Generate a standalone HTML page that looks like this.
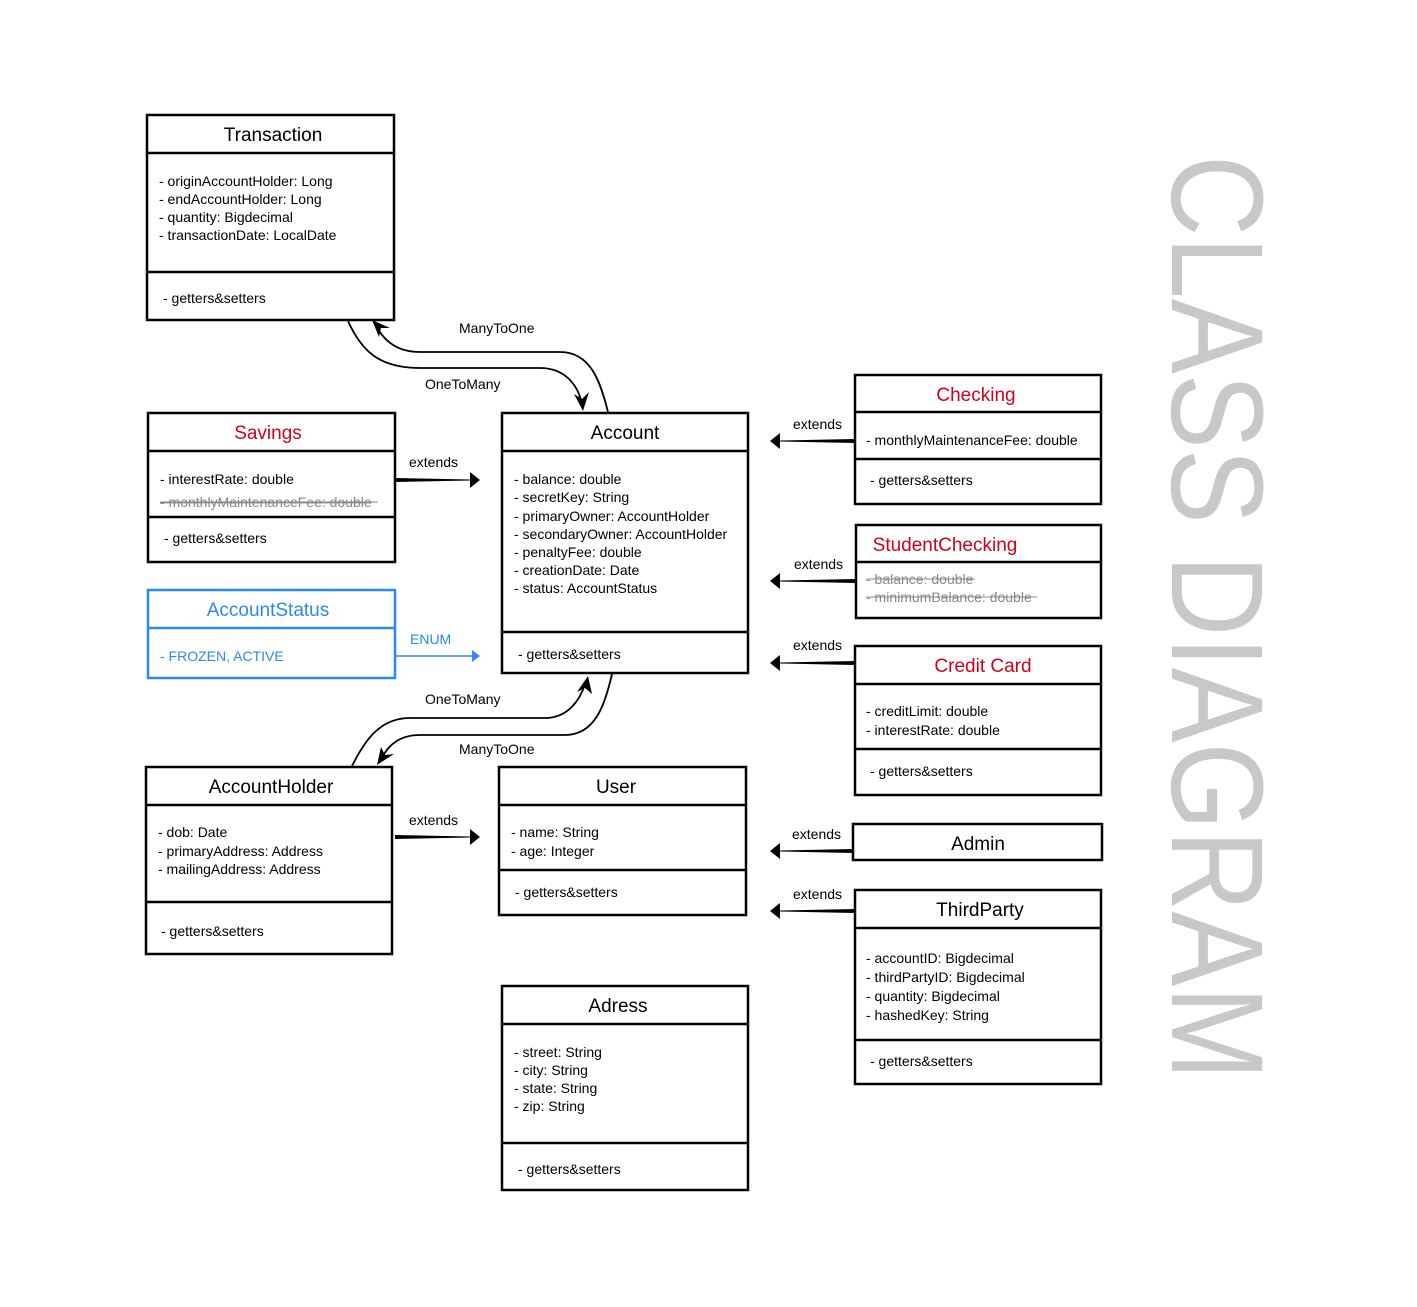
<!DOCTYPE html>
<html><head><meta charset="utf-8"><style>
html,body{margin:0;padding:0;background:#fff}
svg{display:block}
text{font-family:"Liberation Sans",sans-serif}
.h{font-size:19px;text-anchor:middle}
.b{font-size:14px}
.l{font-size:14px}
</style></head><body>
<svg width="1417" height="1307" viewBox="0 0 1417 1307" xmlns="http://www.w3.org/2000/svg">
<g fill="none" stroke="#000" stroke-width="2.5">
<rect x="147" y="115" width="247" height="205"/><line x1="147" y1="153" x2="394" y2="153"/><line x1="147" y1="272" x2="394" y2="272"/>
<rect x="148" y="413" width="247" height="149"/><line x1="148" y1="451" x2="395" y2="451"/><line x1="148" y1="517" x2="395" y2="517"/>
<rect x="502" y="413" width="246" height="260"/><line x1="502" y1="451" x2="748" y2="451"/><line x1="502" y1="632" x2="748" y2="632"/>
<rect x="855" y="375" width="246" height="129"/><line x1="855" y1="412" x2="1101" y2="412"/><line x1="855" y1="459" x2="1101" y2="459"/>
<rect x="856" y="525" width="245" height="93"/><line x1="856" y1="562" x2="1101" y2="562"/>
<rect x="855" y="646" width="246" height="149"/><line x1="855" y1="684" x2="1101" y2="684"/><line x1="855" y1="749" x2="1101" y2="749"/>
<rect x="146" y="767" width="246" height="187"/><line x1="146" y1="805" x2="392" y2="805"/><line x1="146" y1="902" x2="392" y2="902"/>
<rect x="499" y="767" width="247" height="148"/><line x1="499" y1="805" x2="746" y2="805"/><line x1="499" y1="870" x2="746" y2="870"/>
<rect x="853" y="824" width="249" height="36"/>
<rect x="855" y="890" width="246" height="194"/><line x1="855" y1="928" x2="1101" y2="928"/><line x1="855" y1="1040" x2="1101" y2="1040"/>
<rect x="502" y="986" width="246" height="204"/><line x1="502" y1="1024" x2="748" y2="1024"/><line x1="502" y1="1143" x2="748" y2="1143"/>
</g>
<g fill="none" stroke="#2b88f5" stroke-width="2.5">
<rect x="148" y="590" width="247" height="88"/><line x1="148" y1="628" x2="395" y2="628"/>
</g>
<line x1="395" y1="656" x2="472" y2="656" stroke="#2b88f5" stroke-width="1.5"/>
<polygon points="472,650 480,656 472,662" fill="#2b88f5"/>

<!-- curves -->
<g fill="none" stroke="#000" stroke-width="1.8">
<path d="M348,321 C362,352 380,368 420,368 L540,368 C565,368 578,385 582,404"/>
<path d="M608,412 C600,380 590,352 560,352 L420,352 C398,352 385,342 376,326"/>
<path d="M352,766 C365,740 380,718 410,718 L545,718 C568,718 580,700 585,684"/>
<path d="M612,674 C605,705 595,735 565,735 L420,735 C400,735 388,745 382,758"/>
</g>
<polygon points="583,411 574,394 582,399 589,392" fill="#000"/>
<polygon points="372,320 390,328 381,328 379,337" fill="#000"/>
<polygon points="588,676 592,694 585,688 577,692" fill="#000"/>
<polygon points="377,765 381,747 385,755 394,754" fill="#000"/>

<!-- extends arrows -->
<g fill="#000">
<polygon points="395,478 470,479.5 470,480.5 395,482"/><polygon points="470,472 480,480 470,488"/>
<polygon points="395,835 470,836.5 470,837.5 395,839"/><polygon points="470,829 480,837 470,845"/>
<polygon points="855,439 780,440.5 780,441.5 855,443"/><polygon points="780,433 770,441 780,449"/>
<polygon points="856,579 780,580.5 780,581.5 856,583"/><polygon points="780,573 770,581 780,589"/>
<polygon points="855,661 780,662.5 780,663.5 855,665"/><polygon points="780,655 770,663 780,671"/>
<polygon points="853,849 780,850.5 780,851.5 853,853"/><polygon points="780,843 770,851 780,859"/>
<polygon points="855,909 780,910.5 780,911.5 855,913"/><polygon points="780,903 770,911 780,919"/>
</g>

<g class="l">
<text x="459" y="333" class="l">ManyToOne</text>
<text x="425" y="389" class="l">OneToMany</text>
<text x="425" y="704" class="l">OneToMany</text>
<text x="459" y="754" class="l">ManyToOne</text>
<text x="409" y="467" class="l">extends</text>
<text x="409" y="825" class="l">extends</text>
<text x="793" y="429" class="l">extends</text>
<text x="794" y="569" class="l">extends</text>
<text x="793" y="650" class="l">extends</text>
<text x="792" y="839" class="l">extends</text>
<text x="793" y="899" class="l">extends</text>
<text x="410" y="644" class="l" fill="#2b88f5">ENUM</text>
</g>

<text class="h" x="273" y="141">Transaction</text>
<g class="b"><text x="159" y="186">- originAccountHolder: Long</text><text x="159" y="204">- endAccountHolder: Long</text><text x="159" y="222">- quantity: Bigdecimal</text><text x="159" y="240">- transactionDate: LocalDate</text><text x="163" y="303">- getters&amp;setters</text></g>

<text class="h" x="268" y="439" fill="#d0021b">Savings</text>
<g class="b"><text x="160" y="484">- interestRate: double</text><text x="160" y="507" fill="#888" text-decoration="line-through">- monthlyMaintenanceFee: double</text><line x1="160" y1="502" x2="378" y2="502" stroke="#888" stroke-width="1"/><text x="164" y="543">- getters&amp;setters</text></g>

<text class="h" x="268" y="616" fill="#2b88f5">AccountStatus</text>
<text class="b" x="160" y="661" fill="#2b88f5">- FROZEN, ACTIVE</text>

<text class="h" x="625" y="439">Account</text>
<g class="b"><text x="514" y="484">- balance: double</text><text x="514" y="502">- secretKey: String</text><text x="514" y="521">- primaryOwner: AccountHolder</text><text x="514" y="539">- secondaryOwner: AccountHolder</text><text x="514" y="557">- penaltyFee: double</text><text x="514" y="575">- creationDate: Date</text><text x="514" y="593">- status: AccountStatus</text><text x="518" y="659">- getters&amp;setters</text></g>

<text class="h" x="976" y="401" fill="#d0021b">Checking</text>
<g class="b"><text x="866" y="445">- monthlyMaintenanceFee: double</text><text x="870" y="485">- getters&amp;setters</text></g>

<text class="h" x="945" y="551" fill="#d0021b">StudentChecking</text>
<g class="b" fill="#888"><text x="866" y="584">- balance: double</text><text x="866" y="602">- minimumBalance: double</text></g>
<line x1="866" y1="579" x2="975" y2="579" stroke="#888" stroke-width="1"/><line x1="866" y1="597" x2="1037" y2="597" stroke="#888" stroke-width="1"/>

<text class="h" x="983" y="672" fill="#d0021b">Credit Card</text>
<g class="b"><text x="866" y="716">- creditLimit: double</text><text x="866" y="735">- interestRate: double</text><text x="870" y="776">- getters&amp;setters</text></g>

<text class="h" x="271" y="793">AccountHolder</text>
<g class="b"><text x="158" y="837">- dob: Date</text><text x="158" y="856">- primaryAddress: Address</text><text x="158" y="874">- mailingAddress: Address</text><text x="161" y="936">- getters&amp;setters</text></g>

<text class="h" x="616" y="793">User</text>
<g class="b"><text x="511" y="837">- name: String</text><text x="511" y="856">- age: Integer</text><text x="515" y="897">- getters&amp;setters</text></g>

<text class="h" x="978" y="850">Admin</text>

<text class="h" x="980" y="916">ThirdParty</text>
<g class="b"><text x="866" y="963">- accountID: Bigdecimal</text><text x="866" y="982">- thirdPartyID: Bigdecimal</text><text x="866" y="1001">- quantity: Bigdecimal</text><text x="866" y="1020">- hashedKey: String</text><text x="870" y="1066">- getters&amp;setters</text></g>

<text class="h" x="618" y="1012">Adress</text>
<g class="b"><text x="514" y="1057">- street: String</text><text x="514" y="1075">- city: String</text><text x="514" y="1093">- state: String</text><text x="514" y="1111">- zip: String</text><text x="518" y="1174">- getters&amp;setters</text></g>

<text x="1172" y="155" transform="rotate(90 1172 155)" font-size="131" fill="#c8c8c8" textLength="925" lengthAdjust="spacingAndGlyphs">CLASS DIAGRAM</text>
</svg>
</body></html>
